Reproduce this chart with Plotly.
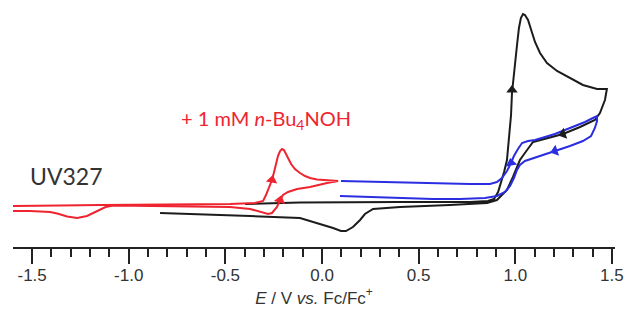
import plotly.graph_objects as go

# ---- data (E in V vs Fc/Fc+, current in arbitrary units) ----
red_E = [-1.599, -1.511, -1.355, -1.148, -0.838, -0.476, -0.347, -0.305, -0.290, -0.279,
         -0.269, -0.259, -0.248, -0.238, -0.228, -0.217, -0.207, -0.197, -0.186, -0.176,
         -0.160, -0.140, -0.114, -0.088, -0.062, -0.026, 0.005, 0.041, 0.083,
         0.026, -0.021, -0.062, -0.129, -0.176, -0.202, -0.217, -0.233, -0.248, -0.259,
         -0.279, -0.300, -0.321, -0.372, -0.476, -0.838, -1.080, -1.120, -1.150, -1.185,
         -1.216, -1.267, -1.319, -1.370, -1.407, -1.511, -1.599]
red_I = [4.1, 4.1, 4.15, 4.2, 4.25, 4.3, 4.4, 4.6, 5.2, 5.7,
         6.2, 6.7, 7.5, 8.3, 9.1, 9.6, 9.8, 9.7, 9.3, 8.9,
         8.3, 7.8, 7.4, 7.1, 6.9, 6.75, 6.7, 6.65, 6.6,
         6.4, 6.15, 6.0, 5.8, 5.5, 5.2, 4.7, 4.0, 3.6, 3.4,
         3.3, 3.4, 3.5, 3.8, 4.0, 4.1, 4.15, 4.0, 3.7, 3.4,
         3.1, 2.9, 3.05, 3.35, 3.5, 3.6, 3.6]

blue_E = [0.098, 0.300, 0.559, 0.766, 0.869, 0.905, 0.931, 0.957, 0.978, 0.993,
          1.014, 1.035, 1.066, 1.102, 1.154, 1.205, 1.257, 1.309, 1.361, 1.402, 1.423,
          1.423, 1.412, 1.392, 1.350, 1.283, 1.205, 1.143, 1.092, 1.050, 1.024,
          1.009, 0.993, 0.973, 0.947, 0.905, 0.843, 0.714, 0.574, 0.404, 0.248, 0.093]
blue_I = [6.6, 6.5, 6.4, 6.3, 6.3, 6.5, 6.9, 7.6, 8.4, 9.1,
          9.8, 10.4, 10.6, 10.7, 11.0, 11.3, 11.7, 12.1, 12.5, 12.9, 13.1,
          12.6, 11.9, 11.1, 10.6, 10.1, 9.6, 9.2, 8.9, 8.6, 8.2,
          7.7, 6.9, 6.1, 5.5, 5.1, 4.9, 4.8, 4.8, 4.9, 5.0, 5.1]

black_E = [-0.398, -0.114, 0.404, 0.766, 0.859, 0.890, 0.911, 0.926, 0.942,
           0.957, 0.967, 0.978, 0.983, 0.993, 0.998, 1.009, 1.019, 1.029, 1.040,
           1.050, 1.066, 1.081, 1.102, 1.128, 1.164, 1.216, 1.283, 1.350, 1.423, 1.474,
           1.464, 1.438, 1.412, 1.335, 1.247, 1.164, 1.092, 1.061, 1.024, 0.988,
           0.957, 0.905, 0.854, 0.662, 0.404, 0.264, 0.222, 0.197, 0.160, 0.124,
           0.098, 0.057, -0.010, -0.114, -0.372, -0.631, -0.838]
black_I = [4.3, 4.45, 4.5, 4.5, 4.6, 4.8, 5.5, 6.4, 7.5,
           8.7, 10.7, 13.2, 15.4, 17.5, 18.7, 20.2, 21.9, 22.9, 23.3,
           23.2, 22.7, 21.7, 20.5, 19.4, 18.4, 17.6, 16.9, 16.2, 15.8, 15.8,
           14.7, 13.4, 12.7, 12.0, 11.3, 10.9, 10.5, 9.7, 8.7, 7.0,
           5.7, 4.7, 4.4, 4.2, 4.0, 3.8, 3.3, 2.7, 2.0, 1.6,
           1.6, 1.9, 2.3, 2.9, 3.1, 3.3, 3.4]

# scan-direction arrows
red_arrows_E = [-0.259, -0.217]
red_arrows_I = [6.7, 4.7]
black_arrows_E = [0.983, 1.247]
black_arrows_I = [15.7, 11.3]
black_arrows_sym = ["triangle-up", "triangle-left"]
blue_arrows_E = [0.978, 1.205]
blue_arrows_I = [8.4, 9.6]
blue_arrows_sym = ["triangle-up", "triangle-left"]

tick_vals = [-1.5, -1.0, -0.5, 0.0, 0.5, 1.0, 1.5]
tick_text = ["-1.5", "-1.0", "-0.5", "0.0", "0.5", "1.0", "1.5"]

BLACK = "#1c1c1c"
BLUE = "#2a2ee0"
RED = "#ee2530"

fig = go.Figure()
fig.add_trace(go.Scatter(x=black_E, y=black_I, mode="lines",
                         line=dict(color=BLACK, width=2), hoverinfo="skip"))
fig.add_trace(go.Scatter(x=blue_E, y=blue_I, mode="lines",
                         line=dict(color=BLUE, width=2), hoverinfo="skip"))
fig.add_trace(go.Scatter(x=red_E, y=red_I, mode="lines",
                         line=dict(color=RED, width=2), hoverinfo="skip"))

fig.add_trace(go.Scatter(x=black_arrows_E, y=black_arrows_I, mode="markers",
                         marker=dict(symbol=black_arrows_sym, size=10, color=BLACK,
                                     angle=[0, -18], line=dict(width=0)),
                         hoverinfo="skip"))
fig.add_trace(go.Scatter(x=blue_arrows_E, y=blue_arrows_I, mode="markers",
                         marker=dict(symbol=blue_arrows_sym, size=10, color=BLUE,
                                     angle=[-10, -18], line=dict(width=0)),
                         hoverinfo="skip"))
fig.add_trace(go.Scatter(x=red_arrows_E, y=red_arrows_I, mode="markers",
                         marker=dict(symbol="triangle-up", size=10, color=RED,
                                     angle=[10, 15], line=dict(width=0)),
                         hoverinfo="skip"))

fig.add_annotation(x=-1.32, y=7.1, xref="x", yref="y", text="UV327", showarrow=False,
                   font=dict(family="Lato, Arial", size=23, color="#333333"))
fig.add_annotation(x=-0.29, y=12.8, xref="x", yref="y",
                   text="+ 1 mM <i>n</i>-Bu<sub>4</sub>NOH", showarrow=False,
                   font=dict(family="Lato, Arial", size=20, color=RED))

fig.update_layout(
    width=629, height=326,
    margin=dict(l=13, r=14, t=0, b=79),
    paper_bgcolor="white", plot_bgcolor="white",
    showlegend=False,
    hovermode=False,
    xaxis=dict(
        range=[-1.599, 1.516],
        showline=True, linecolor="#222222", linewidth=2,
        ticks="outside", ticklen=15, tickwidth=2, tickcolor="#222222",
        tickvals=tick_vals, ticktext=tick_text,
        tickfont=dict(family="Liberation Sans, Arial", size=17, color="#333333"),
        ticklabelstandoff=-3,
        minor=dict(ticks="outside", ticklen=8, tickwidth=2, tickcolor="#222222",
                   dtick=0.1, tick0=-1.5, showgrid=False),
        showgrid=False, zeroline=False,
        title=dict(text="<i>E</i> / V <i>vs.</i> Fc/Fc<sup>+</sup>",
                   font=dict(family="Liberation Sans, Arial", size=17, color="#333333"),
                   standoff=4),
    ),
    yaxis=dict(visible=False, range=[0, 24.7]),
)

fig.write_html("out.html",
               config={"displayModeBar": False, "staticPlot": True},
               post_script="document.body.style.margin='0';"
                           "document.documentElement.style.overflow='hidden';")
